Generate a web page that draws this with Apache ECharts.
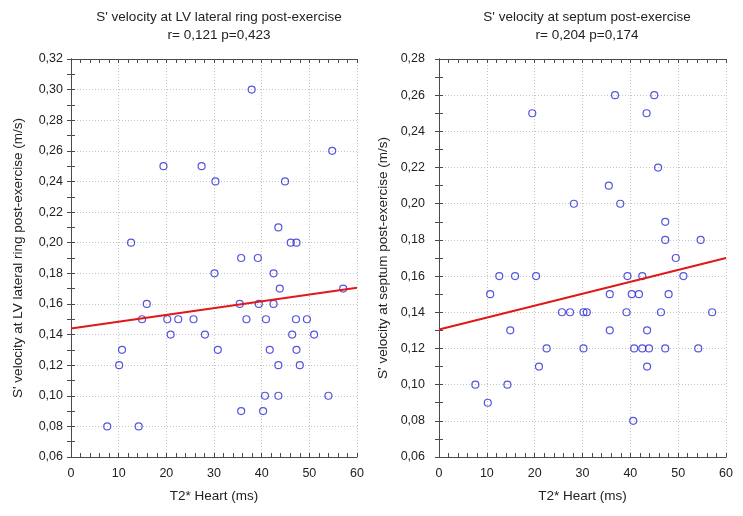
<!DOCTYPE html>
<html>
<head>
<meta charset="utf-8">
<script src="https://cdn.jsdelivr.net/npm/echarts@6/dist/echarts.min.js"></script>
<style>html,body{margin:0;padding:0;background:#fff}#c{width:743px;height:516px}</style>
</head>
<body>
<div id="c"></div>
<script>
// ---- data ----
var titleLeft = "S' velocity at LV lateral ring post-exercise";
var statLeft = "r= 0,121 p=0,423";
var titleRight = "S' velocity at septum post-exercise";
var statRight = "r= 0,204 p=0,174";
var xName = "T2* Heart (ms)";
var yNameLeft = "S' velocity at LV lateral ring post-exercise (m/s)";
var yNameRight = "S' velocity at septum post-exercise (m/s)";

var leftX = [7.6,14.2,10.1,10.7,12.6,14.9,15.9,19.4,20.2,20.9,22.5,25.7,27.4,28.1,30.1,30.3,30.8,35.4,35.7,35.7,36.8,37.9,39.2,39.4,40.3,40.7,40.9,41.7,42.5,42.5,43.5,43.5,43.5,43.8,44.9,46.1,47.3,46.4,47.2,47.3,48.0,49.5,51.0,54.0,54.8,57.1];
var leftY = [0.08,0.08,0.12,0.13,0.20,0.15,0.16,0.25,0.15,0.14,0.15,0.15,0.25,0.14,0.18,0.24,0.13,0.16,0.19,0.09,0.15,0.30,0.19,0.16,0.09,0.10,0.15,0.13,0.18,0.16,0.21,0.12,0.10,0.17,0.24,0.20,0.20,0.14,0.15,0.13,0.12,0.15,0.14,0.10,0.26,0.17];
var leftFit = [[0,0.144],[60,0.1705]];

var rightX = [7.6,10.2,10.7,12.6,14.3,14.9,15.9,19.5,20.3,20.9,22.5,25.7,27.4,28.2,30.2,30.9,30.2,35.5,35.7,35.7,36.8,37.9,39.2,39.4,40.3,40.6,40.8,41.8,42.5,42.5,43.4,43.5,43.5,43.9,45.0,45.8,46.4,47.3,47.3,47.3,48.0,49.5,51.1,54.2,54.7,57.1];
var rightY = [0.10,0.09,0.15,0.16,0.10,0.13,0.16,0.25,0.16,0.11,0.12,0.14,0.14,0.20,0.14,0.14,0.12,0.21,0.15,0.13,0.26,0.20,0.14,0.16,0.15,0.08,0.12,0.15,0.16,0.12,0.25,0.13,0.11,0.12,0.26,0.22,0.14,0.19,0.18,0.12,0.15,0.17,0.16,0.12,0.18,0.14];
var rightFit = [[0,0.1305],[60,0.170]];

var xTicks = {min:0, max:60, interval:10, minor:2};
var yTicksLeft = {min:0.06, max:0.32, interval:0.02, minor:0.01};
var yTicksRight = {min:0.06, max:0.28, interval:0.02, minor:0.01};

// ---- chart ----
var FONT = 'Liberation Sans';
var FS_TITLE = 13.5, FS_NAME = 13.5, FS_TICK = 12.5;
function pairs(xs, ys){ return xs.map(function(x,i){ return [x, ys[i]]; }); }
var axisCol = '#4a4a4a';
var gridCol = '#c4c4c4';
var txtCol = '#222';
function isMajor(v, t){ var k = Math.round((v - t.min) / t.minor); var r = Math.round(t.interval / t.minor); return k % r === 0; }

function xAxes(gi){
  var t = xTicks;
  var tickBase = {
    type:'value', gridIndex:gi, min:t.min, max:t.max, interval:t.minor,
    axisLine:{show:true, lineStyle:{color:axisCol, width:1}},
    axisTick:{show:true, inside:true, length:4, lineStyle:{color:axisCol}},
    splitLine:{show:false}
  };
  var bottom = Object.assign({}, tickBase, {
    position:'bottom', name:xName, nameLocation:'middle', nameGap:32,
    nameTextStyle:{fontFamily:FONT, fontSize:FS_NAME, color:txtCol},
    axisLabel:{fontFamily:FONT, fontSize:FS_TICK, color:txtCol, margin:10,
      formatter:function(v){ return isMajor(v, t) ? String(Math.round(v)) : ''; }}
  });
  var top = Object.assign({}, tickBase, {position:'top', axisLabel:{show:false}});
  var grid = {
    type:'value', gridIndex:gi, position:'bottom', min:t.min, max:t.max, interval:t.interval,
    axisLine:{show:false}, axisTick:{show:false}, axisLabel:{show:false},
    splitLine:{show:true, lineStyle:{color:gridCol, type:[1,2], width:1}}
  };
  return [bottom, top, grid];
}
function yAxes(gi, t, name, gap, margin){
  var tickBase = {
    type:'value', gridIndex:gi, min:t.min, max:t.max, interval:t.minor,
    axisLine:{show:true, lineStyle:{color:axisCol, width:1}},
    axisTick:{show:true, inside:true, length:4, lineStyle:{color:axisCol}},
    splitLine:{show:false}
  };
  var left = Object.assign({}, tickBase, {
    position:'left', name:name, nameLocation:'middle', nameGap:gap,
    nameTextStyle:{fontFamily:FONT, fontSize:FS_NAME, color:txtCol},
    axisLabel:{fontFamily:FONT, fontSize:FS_TICK, color:txtCol, margin:margin,
      formatter:function(v){ return isMajor(v, t) ? v.toFixed(2).replace('.', ',') : ''; }}
  });
  var right = Object.assign({}, tickBase, {position:'right', axisLabel:{show:false}});
  var grid = {
    type:'value', gridIndex:gi, position:'left', min:t.min, max:t.max, interval:t.interval,
    axisLine:{show:false}, axisTick:{show:false}, axisLabel:{show:false},
    splitLine:{show:true, lineStyle:{color:gridCol, type:[1,2], width:1}}
  };
  return [left, right, grid];
}

var xa = xAxes(0).concat(xAxes(1));
var ya = yAxes(0, yTicksLeft, yNameLeft, 46, 8).concat(yAxes(1, yTicksRight, yNameRight, 49, 14));

var scatterStyle = {color:'rgba(0,0,0,0)', borderColor:'#2a2ad6', borderWidth:1.2};
var fitStyle = {color:'#e01818', width:2};

var option = {
  backgroundColor:'#fff',
  animation:false,
  title:[
    {text: titleLeft + '\n' + statLeft, left:214, top:3, textAlign:'center',
     textStyle:{fontFamily:FONT, fontSize:FS_TITLE, fontWeight:'normal', color:txtCol, lineHeight:18}},
    {text: titleRight + '\n' + statRight, left:582, top:3, textAlign:'center',
     textStyle:{fontFamily:FONT, fontSize:FS_TITLE, fontWeight:'normal', color:txtCol, lineHeight:18}}
  ],
  grid:[
    {left:71, top:59, width:286, height:398},
    {left:439, top:59, width:287, height:398}
  ],
  xAxis: xa,
  yAxis: ya,
  series:[
    {type:'scatter', xAxisIndex:0, yAxisIndex:0, data:pairs(leftX,leftY), symbol:'circle', symbolSize:7, itemStyle:scatterStyle, z:3},
    {type:'line', xAxisIndex:0, yAxisIndex:0, data:leftFit, showSymbol:false, symbol:'none', lineStyle:fitStyle, z:4},
    {type:'scatter', xAxisIndex:3, yAxisIndex:3, data:pairs(rightX,rightY), symbol:'circle', symbolSize:7, itemStyle:scatterStyle, z:3},
    {type:'line', xAxisIndex:3, yAxisIndex:3, data:rightFit, showSymbol:false, symbol:'none', lineStyle:fitStyle, z:4}
  ]
};
var chart = echarts.init(document.getElementById('c'), null, {renderer:'canvas'});
chart.setOption(option);
</script>
</body>
</html>
